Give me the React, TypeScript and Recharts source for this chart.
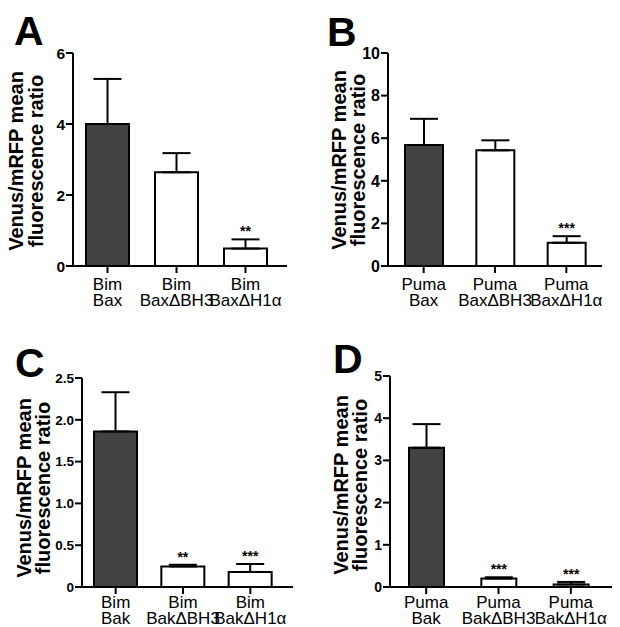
import React from "react";
import { BarChart, Bar, XAxis, YAxis, ErrorBar, LabelList, Cell } from "recharts";

// ---------- data ----------
const ligandA = ["Bim", "Bim", "Bim"];
const targetA = ["Bax", "BaxΔBH3", "BaxΔH1α"];
const meanA = [4.0, 2.64, 0.49];
const semA = [1.27, 0.54, 0.26];
const sigA = ["", "", "**"];
const ticksA = [0, 2, 4, 6];

const ligandB = ["Puma", "Puma", "Puma"];
const targetB = ["Bax", "BaxΔBH3", "BaxΔH1α"];
const meanB = [5.68, 5.43, 1.09];
const semB = [1.23, 0.47, 0.31];
const sigB = ["", "", "***"];
const ticksB = [0, 2, 4, 6, 8, 10];

const ligandC = ["Bim", "Bim", "Bim"];
const targetC = ["Bak", "BakΔBH3", "BakΔH1α"];
const meanC = [1.86, 0.246, 0.18];
const semC = [0.47, 0.02, 0.095];
const sigC = ["", "**", "***"];
const ticksC = [0, 0.5, 1.0, 1.5, 2.0, 2.5];

const ligandD = ["Puma", "Puma", "Puma"];
const targetD = ["Bak", "BakΔBH3", "BakΔH1α"];
const meanD = [3.3, 0.2, 0.06];
const semD = [0.56, 0.03, 0.06];
const sigD = ["", "***", "***"];
const ticksD = [0, 1, 2, 3, 4, 5];

const yTitle1 = "Venus/mRFP mean";
const yTitle2 = "fluorescence ratio";
const panelLetters = ["A", "B", "C", "D"];

const fillColors = ["#424242", "#ffffff", "#ffffff"];
const FONT = "'Liberation Sans', Arial, Helvetica, sans-serif";

function CatTick(props: any) {
  const { x, y, payload, ligand, target, names, dy1, dy2 } = props;
  const i = names.indexOf(payload.value);
  return (
    <text x={x} y={y + dy1} textAnchor="middle" fontSize={17} fill="#000" fontFamily={FONT}>
      <tspan x={x}>{ligand[i]}</tspan>
      <tspan x={x} dy={dy2 - dy1}>{target[i]}</tspan>
    </text>
  );
}

function YTick(props: any) {
  const { x, y, payload, fmt, fs } = props;
  return (
    <text x={x} y={y} dy={fs * 0.36} textAnchor="end" fontSize={fs} fontWeight={700} fill="#000" fontFamily={FONT}>
      {fmt(payload.value)}
    </text>
  );
}

function StarLabel(props: any) {
  const { index, rows } = props;
  const vb = props.viewBox || {};
  const x = props.x ?? vb.x;
  const y = props.y ?? vb.y;
  const width = props.width ?? vb.width;
  const height = props.height ?? vb.height;
  const d = rows[index];
  if (!d || !d.sig) return null;
  const pxPer = d.value > 0 ? Math.abs(height) / d.value : 0;
  const errTop = y - d.sem * pxPer;
  return (
    <text x={x + width / 2} y={errTop - 3} textAnchor="middle" fontSize={14} fontWeight={700} fill="#000" fontFamily={FONT}>
      {d.sig}
    </text>
  );
}

function Panel(props: any) {
  const { left, top, width, height, margin, yWidth, xHeight, padRight, barSize, ticks, fmt, tickFs, dy1, dy2, ligand, target, mean, sem, sig } = props;
  const names = ligand.map((l: string, i: number) => l + " " + target[i]);
  const rows = mean.map((m: number, i: number) => ({
    name: names[i],
    value: m,
    err: [0, sem[i]],
    sem: sem[i],
    sig: sig[i],
  }));
  const max = ticks[ticks.length - 1];
  return (
    <div style={{ position: "absolute", left, top }}>
      <BarChart width={width} height={height} data={rows} margin={margin}>
        <XAxis
          dataKey="name"
          height={xHeight}
          padding={{ left: 0, right: padRight }}
          axisLine={{ stroke: "#000", strokeWidth: 2 }}
          tickLine={{ stroke: "#000", strokeWidth: 2 }}
          tickSize={7}
          tickMargin={2}
          interval={0}
          tick={<CatTick ligand={ligand} target={target} names={names} dy1={dy1} dy2={dy2} />}
        />
        <YAxis
          width={yWidth}
          domain={[0, max]}
          ticks={ticks}
          interval={0}
          axisLine={{ stroke: "#000", strokeWidth: 2 }}
          tickLine={{ stroke: "#000", strokeWidth: 2 }}
          tickSize={7}
          tickMargin={1}
          tick={<YTick fmt={fmt} fs={tickFs} />}
        />
        <Bar dataKey="value" barSize={barSize} stroke="#000" strokeWidth={2} isAnimationActive={false}>
          {rows.map((_: any, i: number) => (
            <Cell key={i} fill={fillColors[i]} />
          ))}
          <ErrorBar dataKey="err" width={14} stroke="#000" strokeWidth={2} direction="y" isAnimationActive={false} />
          <LabelList dataKey="sig" content={<StarLabel rows={rows} />} />
        </Bar>
      </BarChart>
    </div>
  );
}

const intFmt = (v: number) => String(v);
const decFmt = (v: number) => (v === 0 ? "0" : v.toFixed(1));

function Titles() {
  const letters = [
    { x: 14, y: 45 },
    { x: 327, y: 46 },
    { x: 15, y: 377 },
    { x: 333, y: 373 },
  ];
  const titles = [
    { x1: 23, x2: 43, cy: 161 },
    { x1: 346, x2: 365, cy: 160 },
    { x1: 31, x2: 50, cy: 488 },
    { x1: 348, x2: 367, cy: 485 },
  ];
  return (
    <svg width={620} height={627} style={{ position: "absolute", left: 0, top: 0, pointerEvents: "none" }}>
      {letters.map((p, i) => (
        <text key={"l" + i} x={p.x} y={p.y} fontSize={41} fontWeight={700} fill="#000" fontFamily={FONT}>
          {panelLetters[i]}
        </text>
      ))}
      {titles.map((t, i) => (
        <text key={"t" + i} transform={`translate(${t.x1},${t.cy}) rotate(-90)`} textAnchor="middle" fontSize={20} fontWeight={700} fill="#000" fontFamily={FONT}>
          <tspan x={0} y={0}>{yTitle1}</tspan>
          <tspan x={0} y={t.x2 - t.x1}>{yTitle2}</tspan>
        </text>
      ))}
    </svg>
  );
}

export default function App() {
  return (
    <div style={{ position: "absolute", left: 0, top: 0, width: 620, height: 627, background: "#fff", fontFamily: FONT, overflow: "hidden" }}>
      <Panel
        left={0} top={0} width={310} height={310}
        margin={{ top: 53, right: 23, left: 0, bottom: 0 }}
        yWidth={73} xHeight={44} padRight={7} barSize={43}
        ticks={ticksA} fmt={intFmt} tickFs={15.5} dy1={14.5} dy2={30.5}
        ligand={ligandA} target={targetA} mean={meanA} sem={semA} sig={sigA}
      />
      <Panel
        left={310} top={0} width={310} height={310}
        margin={{ top: 53, right: 18, left: 0, bottom: 0 }}
        yWidth={78} xHeight={44} padRight={0} barSize={38}
        ticks={ticksB} fmt={intFmt} tickFs={16} dy1={14.5} dy2={30.5}
        ligand={ligandB} target={targetB} mean={meanB} sem={semB} sig={sigB}
      />
      <Panel
        left={0} top={310} width={310} height={317}
        margin={{ top: 68, right: 17, left: 0, bottom: 0 }}
        yWidth={82} xHeight={40} padRight={9} barSize={43}
        ticks={ticksC} fmt={decFmt} tickFs={13.5} dy1={12} dy2={28}
        ligand={ligandC} target={targetC} mean={meanC} sem={semC} sig={sigC}
      />
      <Panel
        left={310} top={310} width={310} height={317}
        margin={{ top: 66, right: 8, left: 0, bottom: 0 }}
        yWidth={80} xHeight={40} padRight={5} barSize={35}
        ticks={ticksD} fmt={intFmt} tickFs={14} dy1={12} dy2={28}
        ligand={ligandD} target={targetD} mean={meanD} sem={semD} sig={sigD}
      />
      <Titles />
    </div>
  );
}
